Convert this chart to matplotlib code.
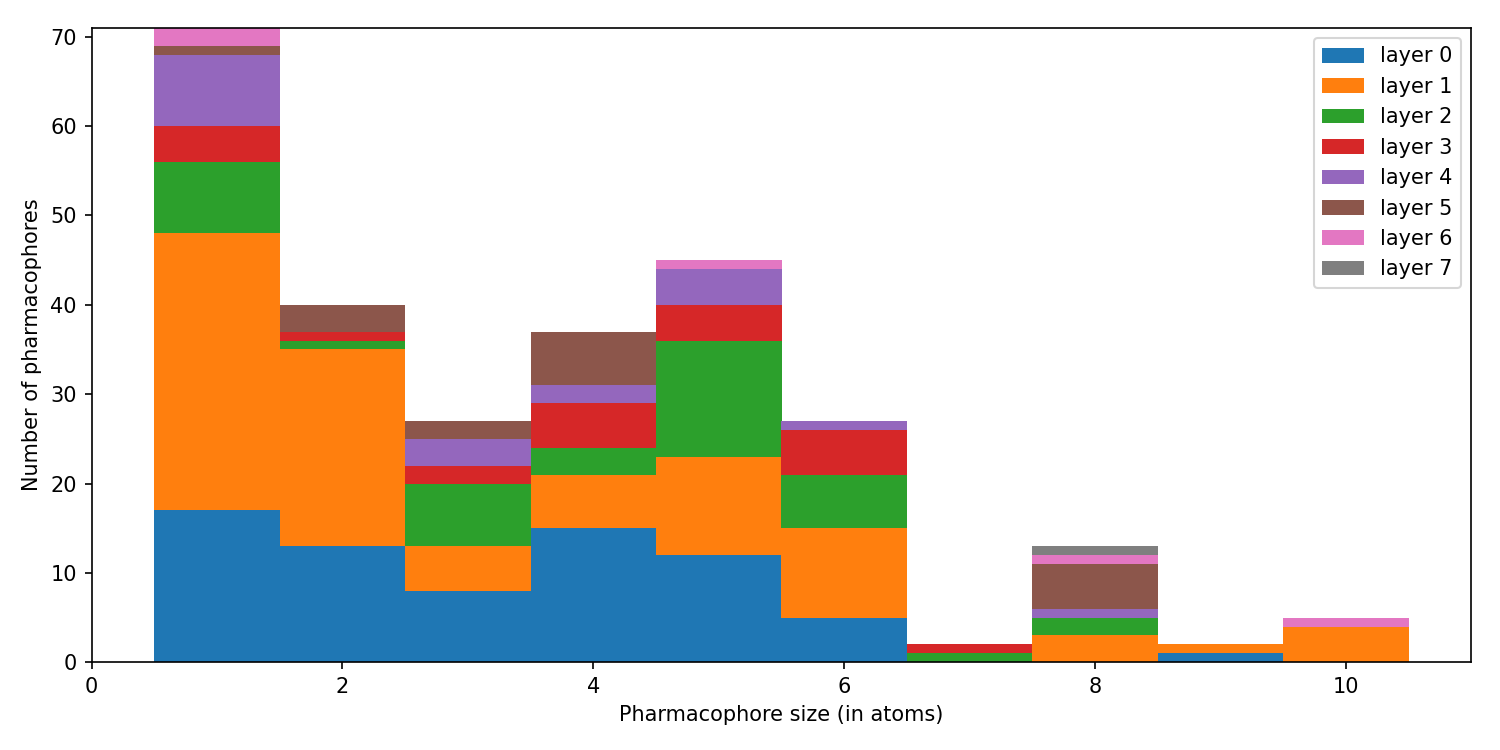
import matplotlib
matplotlib.use('Agg')
import matplotlib.pyplot as plt
import numpy as np

# pharmacophore sizes (bin centres)
sizes = [1, 2, 3, 4, 5, 6, 7, 8, 9, 10]

# counts per layer, one value per size
layer0 = [17, 13, 8, 15, 12, 5, 0, 0, 1, 0]
layer1 = [31, 22, 5, 6, 11, 10, 0, 3, 1, 4]
layer2 = [8, 1, 7, 3, 13, 6, 1, 2, 0, 0]
layer3 = [4, 1, 2, 5, 4, 5, 1, 0, 0, 0]
layer4 = [8, 0, 3, 2, 4, 1, 0, 1, 0, 0]
layer5 = [1, 3, 2, 6, 0, 0, 0, 5, 0, 0]
layer6 = [2, 0, 0, 0, 1, 0, 0, 1, 0, 1]
layer7 = [0, 0, 0, 0, 0, 0, 0, 1, 0, 0]

layers = [layer0, layer1, layer2, layer3, layer4, layer5, layer6, layer7]

fig, ax = plt.subplots(figsize=(10, 5), dpi=150)

bottom = np.zeros(len(sizes))
for i, counts in enumerate(layers):
    ax.bar(sizes, counts, width=1.0, bottom=bottom, color='C%d' % i,
           linewidth=0, label='layer %d' % i)
    bottom += np.array(counts)

ax.set_xlim(0, 11)
ax.set_ylim(0, 71)
ax.set_xlabel('Pharmacophore size (in atoms)')
ax.set_ylabel('Number of pharmacophores')
ax.legend(loc='upper right')

fig.subplots_adjust(left=0.061, right=0.981, top=0.963, bottom=0.117)
plt.savefig('out.png')
